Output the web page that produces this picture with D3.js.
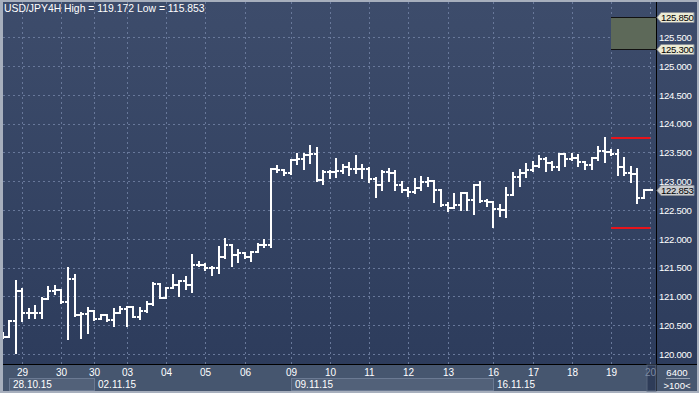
<!DOCTYPE html>
<html><head><meta charset="utf-8">
<script src="https://cdn.jsdelivr.net/npm/d3@7"></script>
<style>html,body{margin:0;padding:0;background:#a7afbd;overflow:hidden}</style>
</head><body><svg id="c" width="699" height="393"></svg>
<script>
const title = "USD/JPY4H High = 119.172 Low = 115.853";
const open  = [120.32,120.30,120.58,121.09,120.72,120.72,120.72,120.95,121.09,121.11,
  120.91,121.31,120.67,120.69,120.74,120.60,120.67,120.59,120.71,120.78,
  120.81,120.65,120.75,120.87,121.22,120.98,121.14,121.20,121.27,121.20,
  121.55,121.55,121.50,121.50,121.69,121.89,121.72,121.75,121.69,121.77,
  121.90,121.90,123.21,123.19,123.14,123.36,123.39,123.45,123.48,123.02,
  123.16,123.16,123.18,123.24,123.22,123.22,123.22,123.03,122.93,123.16,
  123.15,122.93,122.84,122.81,122.89,122.99,123.00,122.84,122.59,122.53,
  122.59,122.79,122.67,122.93,122.66,122.64,122.51,122.50,122.76,123.07,
  123.15,123.19,123.26,123.38,123.32,123.24,123.48,123.38,123.40,123.34,
  123.28,123.40,123.53,123.51,123.48,123.24,123.14,123.12,122.70,122.85];
const high  = [120.37,120.58,121.27,121.13,120.78,120.83,120.98,121.17,121.18,121.11,
  121.49,121.38,120.71,120.79,120.75,120.68,120.68,120.78,120.81,120.82,
  120.82,120.79,120.91,121.23,121.22,121.14,121.38,121.27,121.33,121.72,
  121.59,121.56,121.51,121.85,122.00,121.90,121.81,121.75,121.77,121.91,
  121.98,123.21,123.26,123.20,123.36,123.47,123.48,123.61,123.58,123.18,
  123.18,123.38,123.28,123.32,123.44,123.28,123.23,123.05,123.17,123.21,
  123.17,122.99,122.88,123.03,123.07,123.05,123.00,122.85,122.62,122.78,
  122.80,122.80,122.93,122.99,122.67,122.64,122.59,122.89,123.14,123.19,
  123.30,123.34,123.44,123.40,123.33,123.48,123.48,123.47,123.46,123.34,
  123.40,123.60,123.745,123.55,123.54,123.40,123.25,123.22,122.85,122.855];
const low   = [120.28,120.30,120.01,120.58,120.62,120.62,120.62,120.95,121.05,120.89,
  120.26,120.66,120.27,120.37,120.59,120.60,120.58,120.49,120.71,120.49,
  120.64,120.60,120.73,120.85,120.98,120.97,121.14,121.00,121.12,121.08,
  121.52,121.45,121.38,121.41,121.66,121.52,121.60,121.66,121.62,121.77,
  121.86,121.85,123.16,123.11,123.13,123.30,123.22,123.31,123.01,122.96,
  123.05,123.08,123.14,123.11,123.15,123.05,122.99,122.73,122.84,123.01,
  122.84,122.82,122.74,122.79,122.85,122.92,122.64,122.57,122.49,122.53,
  122.50,122.50,122.43,122.64,122.57,122.21,122.40,122.37,122.76,122.91,
  123.08,123.17,123.25,123.17,123.19,123.19,123.26,123.37,123.26,123.22,
  123.21,123.36,123.34,123.46,123.11,123.11,122.99,122.62,122.70,122.85];
const close = [120.30,120.58,121.09,120.72,120.72,120.72,120.95,121.09,121.11,120.91,
  121.31,120.67,120.69,120.74,120.60,120.67,120.59,120.71,120.78,120.81,
  120.65,120.75,120.87,121.22,120.98,121.14,121.20,121.27,121.20,121.55,
  121.55,121.50,121.50,121.69,121.89,121.72,121.75,121.69,121.77,121.90,
  121.90,123.21,123.19,123.14,123.36,123.39,123.45,123.48,123.02,123.16,
  123.16,123.18,123.24,123.22,123.22,123.22,123.03,122.93,123.16,123.15,
  122.93,122.84,122.81,122.89,122.99,123.00,122.84,122.59,122.53,122.59,
  122.79,122.67,122.93,122.66,122.64,122.51,122.50,122.76,123.07,123.15,
  123.19,123.26,123.38,123.32,123.24,123.48,123.38,123.40,123.34,123.28,
  123.40,123.53,123.51,123.48,123.24,123.14,123.12,122.70,122.85,122.853];
const dayTickIndex  = [3,9,14,19,25,31,37,44,50,56,62,68,75,81,87,93,99];
const dayTickLabels = ["29","30","30","03","04","05","06","09","10","11","12","13","16","17","18","19","20"];
const weekLabels = ["28.10.15","02.11.15","09.11.15","16.11.15"];
const weekStart  = [1,14,44,75];
const weekEnd    = [14,44,75,99];
const yTicks = [120,120.5,121,121.5,122,122.5,123,123.5,124,124.5,125,125.5];
const zoneTop = 125.85, zoneBottom = 125.30;
const redLevels = [123.745, 122.19];
const lastPrice = 122.853;
const volumeText = "6400", scaleText = ">100<";

const W = 699, H = 393;
const plotL = 3, plotR = 656, plotT = 2, plotB = 364;
const svg = d3.select("#c");
const FONT = "'Liberation Sans', Arial, sans-serif";
const FS = "9.6px", LS = "-0.3px";

const x = d3.scaleLinear().domain([0, 99]).range([2.6, 650.4]);
const y = d3.scaleLinear().domain([120, 125]).range([354, 66]);

const defs = svg.append("defs");
const g1 = defs.append("linearGradient").attr("id","bg").attr("x1",0).attr("x2",0).attr("y1",0).attr("y2",1);
g1.append("stop").attr("offset","0%").attr("stop-color","#3d4c6b");
g1.append("stop").attr("offset","100%").attr("stop-color","#2d3c5c");
defs.append("clipPath").attr("id","clip").append("rect")
  .attr("x",plotL).attr("y",plotT).attr("width",plotR-plotL).attr("height",plotB-plotT);

// frame
svg.append("rect").attr("x",0).attr("y",0).attr("width",W).attr("height",H).attr("fill","#a7afbd");
svg.append("rect").attr("x",plotL).attr("y",plotT).attr("width",W-2-plotL).attr("height",plotB-plotT).attr("fill","url(#bg)");
// bottom axis strip
svg.append("rect").attr("x",plotL).attr("y",plotB+1).attr("width",W-2-plotL).attr("height",H-3-plotB).attr("fill","#46566f");

const plot = svg.append("g").attr("clip-path","url(#clip)");

// grid
plot.append("g").selectAll("line").data(yTicks).join("line")
  .attr("x1",plotL).attr("x2",plotR)
  .attr("y1",d=>Math.round(y(d))+0.5).attr("y2",d=>Math.round(y(d))+0.5)
  .attr("stroke","#68789a").attr("stroke-dasharray","2,3");
plot.append("g").selectAll("line").data(dayTickIndex).join("line")
  .attr("x1",d=>Math.round(x(d))+0.5).attr("x2",d=>Math.round(x(d))+0.5)
  .attr("y1",plotT).attr("y2",plotB)
  .attr("stroke","#68789a").attr("stroke-dasharray","2,3");

// zone box
plot.append("rect")
  .attr("x",Math.round(x(93))).attr("y",Math.round(y(zoneTop)))
  .attr("width",plotR-Math.round(x(93))).attr("height",Math.round(y(zoneBottom))-Math.round(y(zoneTop)))
  .attr("fill","#5d6959");
plot.selectAll("line.zb").data([zoneTop,zoneBottom]).join("line").attr("class","zb")
  .attr("x1",Math.round(x(93))).attr("x2",plotR)
  .attr("y1",d=>Math.round(y(d))+0.5).attr("y2",d=>Math.round(y(d))+0.5)
  .attr("stroke","#111").attr("stroke-width",1);

// red levels
plot.selectAll("line.red").data(redLevels).join("line").attr("class","red")
  .attr("x1",x(93)).attr("x2",x(99))
  .attr("y1",d=>Math.round(y(d))).attr("y2",d=>Math.round(y(d)))
  .attr("stroke","#e8141b").attr("stroke-width",2);

// OHLC bars
const idx = d3.range(open.length);
const bg = plot.append("g").attr("stroke","#ffffff").attr("stroke-width",2).attr("shape-rendering","crispEdges");
idx.forEach(i => {
  const cx = Math.round(x(i));
  const yh = Math.round(y(high[i])), yl = Math.round(y(low[i]));
  const yo = Math.round(y(open[i])), yc = Math.round(y(close[i]));
  bg.append("line").attr("x1",cx).attr("x2",cx).attr("y1",yh-1).attr("y2",Math.max(yl,yh)+1);
  bg.append("line").attr("x1",cx-3).attr("x2",cx).attr("y1",yo).attr("y2",yo);
  bg.append("line").attr("x1",cx).attr("x2",cx+3).attr("y1",yc).attr("y2",yc);
});

// axis separator lines
svg.append("line").attr("x1",plotR+0.5).attr("x2",plotR+0.5).attr("y1",plotT).attr("y2",H-2).attr("stroke","#000");
svg.append("line").attr("x1",plotL).attr("x2",W-2).attr("y1",plotB+0.5).attr("y2",plotB+0.5).attr("stroke","#000");

// title
svg.append("text").attr("x",4).attr("y",12).attr("fill","#fff")
  .attr("font-family",FONT).attr("font-size","10.4px").text(title);

// right axis labels (123.000 sits partly under the last-price box, as in the source)
const yAxis = d3.axisRight(y).tickValues(yTicks).tickFormat(d3.format(".3f")).tickSize(0).tickPadding(0);
const ya = svg.append("g").attr("transform",`translate(${plotR+3},0)`).call(yAxis);
ya.select(".domain").remove();
ya.selectAll("text").attr("fill","#fff").attr("font-family",FONT).attr("font-size",FS)
  .attr("letter-spacing",LS).attr("dy","0.35em");

// price boxes
function priceBox(v, fill){
  const cy = Math.round(y(v));
  const g = svg.append("g");
  g.append("path").attr("d",`M${plotR+1},${cy+0.5} L${plotR+5},${cy-4.5} L${plotR+38},${cy-4.5} L${plotR+38},${cy+5.5} L${plotR+5},${cy+5.5} Z`)
    .attr("fill",fill).attr("stroke","#8a8f98").attr("stroke-width",1);
  g.append("text").attr("x",plotR+5).attr("y",cy+0.5).attr("dy","0.35em").attr("fill","#000")
    .attr("font-family",FONT).attr("font-size",FS).attr("letter-spacing",LS).text(d3.format(".3f")(v));
}
priceBox(zoneTop,"#ecebd5");
priceBox(zoneBottom,"#ecebd5");
priceBox(lastPrice,"#c9ccd1");

// bottom axis: week bands
const bandG = svg.append("g");
weekLabels.forEach((lab,k) => {
  const x0 = Math.round(x(weekStart[k])), x1 = Math.min(Math.round(x(weekEnd[k])), plotR);
  if (k % 2 === 0) {
    bandG.append("rect").attr("x",x0+0.5).attr("y",378.5).attr("width",x1-x0).attr("height",12)
      .attr("fill","#526179").attr("stroke","#6b7a93");
  } else {
    bandG.append("line").attr("x1",x0+0.5).attr("x2",x0+0.5).attr("y1",378).attr("y2",391).attr("stroke","#6b7a93");
  }
  bandG.append("text").attr("x",x0+4).attr("y",388).attr("fill","#fff")
    .attr("font-family",FONT).attr("font-size","10px").text(lab);
});
// last day box
svg.append("rect").attr("x",Math.round(x(98.5))).attr("y",plotB+1).attr("width",plotR-Math.round(x(98.5))).attr("height",H-3-plotB)
  .attr("fill","#2e3c58").attr("stroke","#56657d");
// day labels
svg.append("g").selectAll("text").data(dayTickIndex).join("text")
  .attr("x",d=>Math.round(x(d))+0.5).attr("y",376).attr("text-anchor","middle")
  .attr("fill",(d,i)=> i===dayTickIndex.length-1 ? "#7d8aa2" : "#fff")
  .attr("font-family",FONT).attr("font-size","10px")
  .text((d,i)=>dayTickLabels[i]);

// bottom-right box
svg.append("text").attr("x",677).attr("y",376).attr("text-anchor","middle").attr("fill","#fff")
  .attr("font-family",FONT).attr("font-size",FS).text(volumeText);
svg.append("line").attr("x1",666).attr("x2",690).attr("y1",378.5).attr("y2",378.5).attr("stroke","#9aa4b4");
svg.append("text").attr("x",677).attr("y",389).attr("text-anchor","middle").attr("fill","#fff")
  .attr("font-family",FONT).attr("font-size",FS).text(scaleText);
</script></body></html>
